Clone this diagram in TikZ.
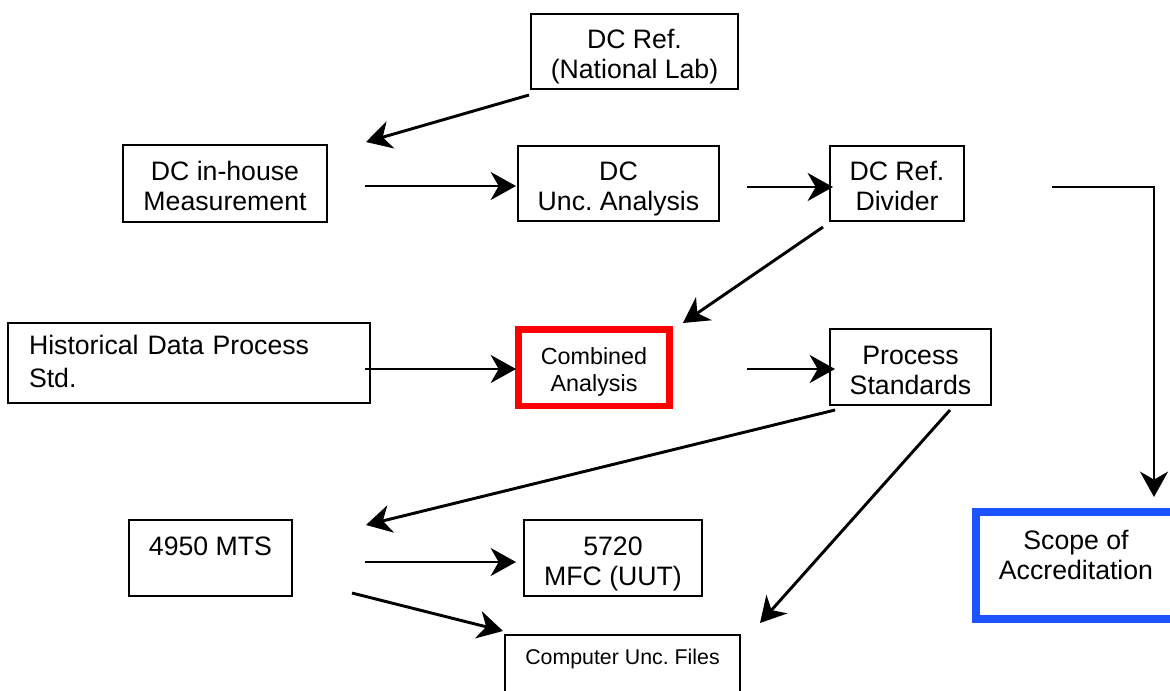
\documentclass[tikz,border=0pt]{standalone}
\usepackage{fontspec}
\setmainfont{Liberation Sans}
\frenchspacing
\usetikzlibrary{arrows.meta}
\definecolor{boxred}{RGB}{255,0,0}
\definecolor{boxblue}{RGB}{26,83,255}
\tikzset{
  base/.style={draw=black, rectangle, inner sep=0pt, outer sep=0pt, align=center, line width=1.6pt},
  box/.style={base, font=\fontsize{20}{22.5}\selectfont, text height=42pt, text depth=1.5pt},
  histbox/.style={base, font=\fontsize{20}{25}\selectfont, align=left, text height=16pt, text depth=29.5pt},
  redbox/.style={base, draw=boxred, line width=4.9pt, font=\fontsize{17.5}{20}\selectfont,
    text height=37pt, text depth=1.75pt},
  bluebox/.style={base, draw=boxblue, line width=6pt, font=\fontsize{20}{22.5}\selectfont,
    text height=24pt, text depth=2pt},
  filebox/.style={base, font=\fontsize{16}{19}\selectfont, anchor=north,
    text height=11.5pt, text depth=27pt, inner ysep=10.5pt},
  arr/.style={line width=2.2pt, -{Stealth[length=19pt,width=21pt,inset=6pt]}},
}
\begin{document}
\begin{tikzpicture}[x=0.75pt,y=-0.75pt]
\path[use as bounding box, clip] (0,0) rectangle (1170,690);

\node[box, minimum width=155.25pt, minimum height=56.25pt] (natlab) at (634.5,51.5) {DC Ref.\\(National Lab)};
\node[box, minimum width=153pt, minimum height=57.75pt] (inhouse) at (225,183.5) {DC in-house\\Measurement};
\node[box, minimum width=150.75pt, minimum height=56.25pt] (uncan) at (618.5,183.5) {DC\\Unc. Analysis};
\node[box, minimum width=100.5pt, minimum height=56.25pt] (divider) at (897,183.5) {DC Ref.\\Divider};
\node[histbox, minimum width=271.5pt, minimum height=60pt, text width=240pt] (hist) at (189,363) {Historical Data Process\\Std.};
\node[redbox, minimum width=113.6pt, minimum height=57.4pt] (combined) at (594,367.5) {Combined\\Analysis};
\node[box, minimum width=120.75pt, minimum height=57pt] (process) at (910.5,367) {Process\\Standards};
\node[bluebox, minimum width=150pt, minimum height=80pt] (scope) at (1076,565.3) {Scope of\\Accreditation};
\node[box, minimum width=122.25pt, minimum height=57pt] (mts) at (210.5,558) {4950 MTS\\\mbox{}};
\node[box, minimum width=133.5pt, minimum height=57pt] (mfc) at (613,558) {5720\\MFC (UUT)};
\node[filebox, minimum width=176.25pt] (files) at (622.5,635) {Computer Unc. Files};

\draw[arr] ([shift={(-2,6)}]natlab.south west) -- ([shift={(39,-3)}]inhouse.north east);
\draw[arr] ([shift={(38,2.5)}]inhouse.east) -- ([shift={(-2,2.5)}]uncan.west);
\draw[arr] ([shift={(27.5,3.5)}]uncan.east) -- ([shift={(3,3.5)}]divider.west);
\draw[arr] ([shift={(88,3.5)}]divider.east) -| ([shift={(78,-15)}]scope.north);
\draw[arr] ([shift={(-7,6)}]divider.south west) -- ([shift={(13.25,-6.25)}]combined.north east);
\draw[arr] ([shift={(-5,6)}]hist.east) -- ([shift={(-2.25,1.5)}]combined.west);
\draw[arr] ([shift={(77.25,1.5)}]combined.east) -- ([shift={(5,2)}]process.west);
\draw[arr] ([shift={(5,5)}]process.south west) -- ([shift={(74,5)}]mts.north east);
\draw[arr] ([shift={(39.5,5)}]process.south) -- ([shift={(20,-12)}]files.north east);
\draw[arr] ([shift={(73,4)}]mts.east) -- ([shift={(-8,4)}]mfc.west);
\draw[arr] ([shift={(60,-3)}]mts.south east) -- ([shift={(-2,-4)}]files.north west);
\end{tikzpicture}
\end{document}
